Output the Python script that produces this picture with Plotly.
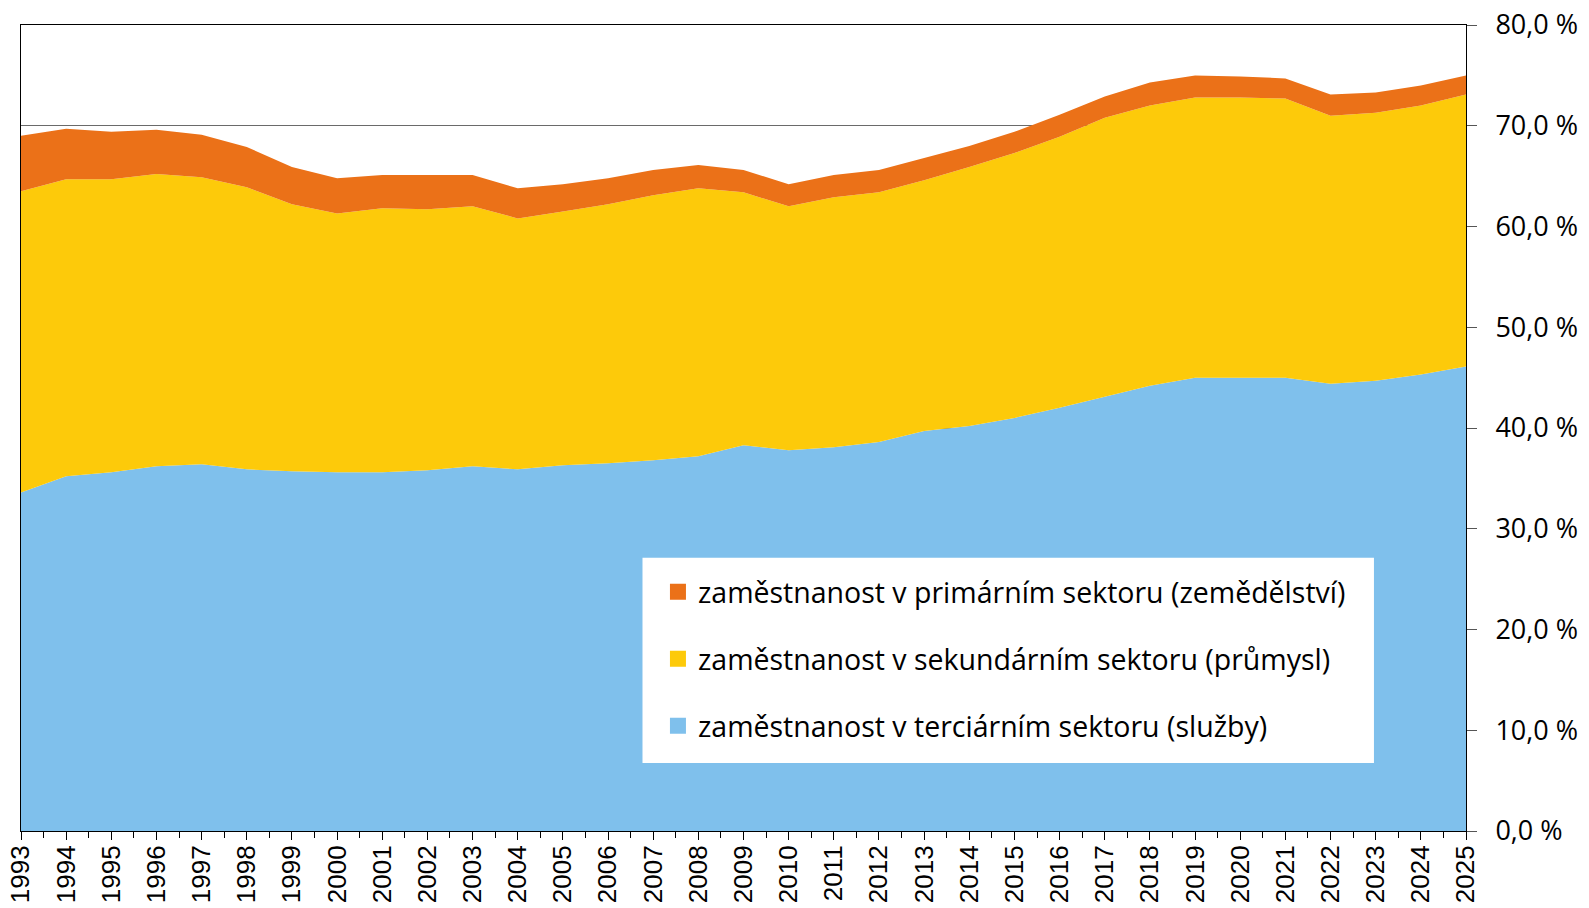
import plotly.graph_objects as go

years = list(range(1993, 2026))

# employment by sector, % (stacked layers)
terciarni = [33.6, 35.2, 35.6, 36.2, 36.4, 35.9, 35.7, 35.6, 35.6, 35.8, 36.2,
             35.9, 36.3, 36.5, 36.8, 37.2, 38.3, 37.8, 38.1, 38.6, 39.7, 40.2,
             41.0, 42.0, 43.1, 44.2, 45.0, 45.0, 45.0, 44.4, 44.7, 45.3, 46.1]
sekundarni = [29.9, 29.5, 29.1, 29.0, 28.5, 28.0, 26.5, 25.7, 26.2, 25.9, 25.8,
              24.9, 25.2, 25.7, 26.3, 26.6, 25.1, 24.2, 24.8, 24.8, 24.9, 25.7,
              26.3, 26.9, 27.7, 27.8, 27.8, 27.8, 27.7, 26.6, 26.6, 26.7, 27.0]
primarni = [5.5, 5.0, 4.7, 4.4, 4.2, 4.0, 3.7, 3.5, 3.3, 3.4, 3.1,
            3.0, 2.7, 2.6, 2.5, 2.3, 2.2, 2.2, 2.2, 2.2, 2.2, 2.1,
            2.1, 2.2, 2.1, 2.3, 2.2, 2.1, 2.0, 2.1, 2.0, 2.0, 1.9]

names = ["zaměstnanost v terciárním sektoru (služby)",
         "zaměstnanost v sekundárním sektoru (průmysl)",
         "zaměstnanost v primárním sektoru (zemědělství)"]
colors = ["#7FC0EC", "#FDCA0A", "#EB7118"]
series = [terciarni, sekundarni, primarni]

fig = go.Figure()
for name, col, vals in zip(names, colors, series):
    fig.add_trace(go.Scatter(
        x=years, y=vals, name=name, stackgroup="one", mode="lines",
        line=dict(width=0, color=col), fillcolor=col, showlegend=False))

# legend entries (square symbols)
for rank, (name, col) in enumerate(zip(names, colors)):
    fig.add_trace(go.Scatter(
        x=[None], y=[None], name=name, mode="markers",
        marker=dict(symbol="square", size=16, color=col),
        legendgroup=name, legendrank=3 - rank, showlegend=True))

fig.add_shape(type="rect", xref="paper", yref="paper",
              x0=0.4301, x1=0.9363, y0=0.0844, y1=0.3389,
              fillcolor="white", line=dict(width=0), layer="above")

fig.update_layout(
    width=1581, height=900,
    margin=dict(l=13, t=17, r=123, b=77, autoexpand=False),
    paper_bgcolor="white", plot_bgcolor="white",
    separators=", ",
    font=dict(family="Open Sans", color="black"),
    legend=dict(x=0.4408, y=0.328, xanchor="left", yanchor="top",
                bgcolor="rgba(0,0,0,0)", font=dict(size=28.5, family="Open Sans"),
                tracegroupgap=27, itemwidth=30),
    xaxis=dict(range=[1993, 2025], tickmode="array", tickvals=years,
               ticktext=[str(y) for y in years], tickangle=-90, automargin=False,
               ticklabeloverflow="allow", ticklabelstandoff=-5,
               ticks="outside", ticklen=8, tickcolor="black",
               tickfont=dict(family="Liberation Sans", size=26),
               showline=True, linecolor="black", linewidth=1, mirror=True,
               showgrid=False, zeroline=False,
               minor=dict(tickvals=[y + 0.5 for y in years[:-1]], ticks="outside",
                          ticklen=6, tickcolor="black")),
    yaxis=dict(range=[0, 80], dtick=10, side="right", tickformat=".1f",
               ticksuffix=" %", ticks="outside", ticklen=10, tickcolor="#555",
               automargin=False, ticklabelstandoff=13, ticklabeloverflow="allow",
               tickfont=dict(family="Open Sans", size=27),
               showline=True, linecolor="black", linewidth=1, mirror=True,
               showgrid=True, gridcolor="#6a6a6a", gridwidth=1, zeroline=False),
)

fig.write_html("out.html")
